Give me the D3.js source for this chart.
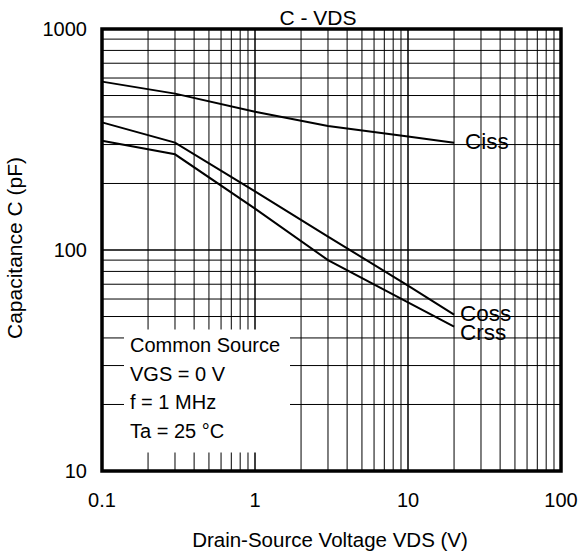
<!DOCTYPE html>
<html>
<head>
<meta charset="utf-8">
<script src="https://cdn.jsdelivr.net/npm/d3@7"></script>
<style>
  body { margin: 0; background: #fff; }
  svg { display: block; font-family: "Liberation Sans", Arial, sans-serif; }
</style>
</head>
<body>
<div id="chart"></div>
<script>
// drain-source voltage (V) at the read-off points
var vds = [0.1, 0.3, 1, 3, 10, 20];
// capacitances in pF
var ciss = [578, 510, 422, 364, 326, 306];
var coss = [378, 306, 184, 115, 69, 51];
var crss = [312, 271, 154, 90, 58, 45];

var seriesNames = ['Ciss', 'Coss', 'Crss'];
var xTicks = [0.1, 1, 10, 100];
var yTicks = [10, 100, 1000];
var notes = ['Common Source', 'VGS = 0 V', 'f = 1 MHz', 'Ta = 25 \u00B0C'];

var W = 579, H = 555;
var plotLeft = 102, plotTop = 29, pw = 459, ph = 442;

document.addEventListener('DOMContentLoaded', function () {
  draw();
}, false);

function minorTicks(lo, hi) {
  var out = [];
  for (var d = lo; d < hi; d *= 10) {
    for (var k = 1; k <= 10; k++) out.push(d * k);
  }
  return out;
}

function draw() {
  var svg = d3.select('#chart').append('svg')
    .attr('width', W)
    .attr('height', H);

  var x = d3.scaleLog().domain([0.1, 100]).range([plotLeft, plotLeft + pw]);
  var y = d3.scaleLog().domain([10, 1000]).range([plotTop + ph, plotTop]);

  // grid
  var g = svg.append('g');
  g.selectAll('line.vx')
    .data(minorTicks(0.1, 100))
    .enter().append('line')
    .attr('class', 'vx')
    .attr('x1', function(d){ return x(d); })
    .attr('x2', function(d){ return x(d); })
    .attr('y1', plotTop).attr('y2', plotTop + ph)
    .attr('stroke', '#000').attr('stroke-width', 1);
  g.selectAll('line.hy')
    .data(minorTicks(10, 1000))
    .enter().append('line')
    .attr('class', 'hy')
    .attr('y1', function(d){ return y(d); })
    .attr('y2', function(d){ return y(d); })
    .attr('x1', plotLeft).attr('x2', plotLeft + pw)
    .attr('stroke', '#000').attr('stroke-width', 1);

  // note box covers the grid
  svg.append('rect')
    .attr('x', 124).attr('y', 329.5)
    .attr('width', 166).attr('height', 123)
    .attr('fill', '#fff');
  svg.selectAll('text.note')
    .data(notes)
    .enter().append('text')
    .attr('class', 'note')
    .attr('x', 130)
    .attr('y', function(d, i){ return 352 + i * 28.7; })
    .attr('font-size', 20)
    .text(function(d){ return d; });

  // curves
  var line = d3.line()
    .x(function(d){ return x(d[0]); })
    .y(function(d){ return y(d[1]); });
  var series = [ciss, coss, crss];
  svg.selectAll('path.curve')
    .data(series)
    .enter().append('path')
    .attr('class', 'curve')
    .attr('d', function(s){ return line(vds.map(function(v, i){ return [v, s[i]]; })); })
    .attr('fill', 'none')
    .attr('stroke', '#000')
    .attr('stroke-width', 2);

  // curve labels
  var lx = x(vds[vds.length - 1]);
  var labelPos = [[lx + 11, y(ciss[ciss.length - 1]) + 6],
                  [lx + 6, y(coss[coss.length - 1]) + 6],
                  [lx + 6, y(crss[crss.length - 1]) + 13]];
  svg.selectAll('text.lab')
    .data(seriesNames)
    .enter().append('text')
    .attr('class', 'lab')
    .attr('x', function(d, i){ return labelPos[i][0]; })
    .attr('y', function(d, i){ return labelPos[i][1]; })
    .attr('font-size', 22.5)
    .text(function(d){ return d; });

  // frame
  svg.append('rect')
    .attr('x', plotLeft).attr('y', plotTop)
    .attr('width', pw).attr('height', ph)
    .attr('fill', 'none')
    .attr('stroke', '#000')
    .attr('stroke-width', 3.5);

  // tick labels
  svg.selectAll('text.xt')
    .data(xTicks)
    .enter().append('text')
    .attr('class', 'xt')
    .attr('x', function(d){ return x(d); })
    .attr('y', 507)
    .attr('text-anchor', 'middle')
    .attr('font-size', 20)
    .text(function(d){ return d; });
  svg.selectAll('text.yt')
    .data(yTicks)
    .enter().append('text')
    .attr('class', 'yt')
    .attr('x', 87)
    .attr('y', function(d){ return y(d) + 7; })
    .attr('text-anchor', 'end')
    .attr('font-size', 20)
    .text(function(d){ return d; });

  // titles
  svg.append('text')
    .attr('x', 318).attr('y', 25)
    .attr('text-anchor', 'middle')
    .attr('font-size', 21)
    .text('C - VDS');
  svg.append('text')
    .attr('x', 330).attr('y', 547)
    .attr('text-anchor', 'middle')
    .attr('font-size', 20.5)
    .text('Drain-Source Voltage VDS (V)');
  svg.append('text')
    .attr('transform', 'translate(22,248) rotate(-90)')
    .attr('text-anchor', 'middle')
    .attr('font-size', 21)
    .text('Capacitance C (pF)');
}
</script>
</body>
</html>
